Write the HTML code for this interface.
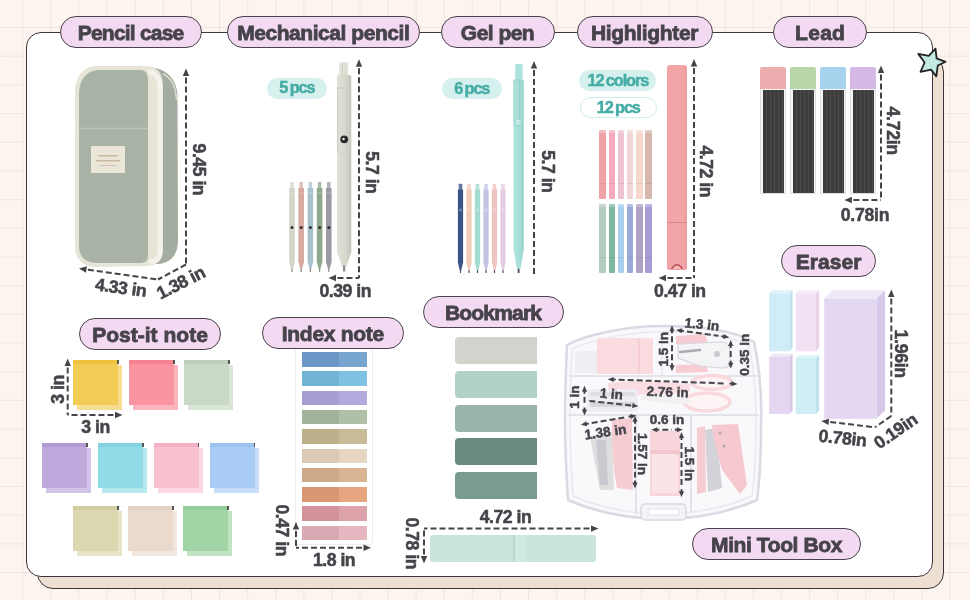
<!DOCTYPE html>
<html><head><meta charset="utf-8"><title>Stationery Set</title>
<style>
*{margin:0;padding:0;box-sizing:border-box}
html,body{width:970px;height:600px;overflow:hidden}
body{position:relative;background-color:#fcf4ef;
background-image:linear-gradient(90deg, rgba(228,204,194,.38) 1px, transparent 1px),linear-gradient(180deg, rgba(228,204,194,.38) 1px, transparent 1px);
background-size:28.1px 28.7px;background-position:22.4px 27px;font-family:'Liberation Sans', 'DejaVu Sans', sans-serif;}
.abs{position:absolute}
.pill{position:absolute;height:32px;border:1.6px solid #4b434b;border-radius:16px;background:#f3d9f1;color:#46434a;
font:bold 21px/31px 'Liberation Sans', 'DejaVu Sans', sans-serif;letter-spacing:-0.8px;text-align:center;white-space:nowrap;-webkit-text-stroke:0.8px #46434a}
.cnt{position:absolute;height:22px;border-radius:11px;background:#d5f0ed;color:#47aca6;font:bold 16.3px/22px 'Liberation Sans', 'DejaVu Sans', sans-serif;letter-spacing:-1.1px;word-spacing:-1px;text-align:center;-webkit-text-stroke:0.5px #47aca6}
.dim{font-family:'Liberation Sans', 'DejaVu Sans', sans-serif;font-weight:bold;fill:#46434a;letter-spacing:-0.4px}
</style></head><body>

<div class="abs" style="left:37px;top:56px;width:907px;height:533px;background:#eddfd1;border:1.6px solid #3d3539;border-radius:16px"></div>
<div class="abs" style="left:26px;top:32px;width:907px;height:545px;background:#fff;border:1.6px solid #3d3539;border-radius:15px"></div>
<svg class="abs" style="left:0;top:0" width="970" height="600" viewBox="0 0 970 600">
<path d="M146,67 C165,67 177,78 177.5,96 L178,240 C178,256 170,263 158,264 L146,264 Z" fill="#a2ad9f"/>
<path d="M98,66 L146,66 C158,66 163,74 163,86 L163,250 C163,260 157,266 146,266 L96,267 C83,267 75,259 75,246 L75,92 C75,76 84,66 98,66 Z" fill="#e7e4d8"/>
<path d="M100,70 L140,70 C146,70 148,74 148,80 L148,256 C148,261 145,263 140,263 L97,263 C86,263 79,257 79,246 L79,94 C79,79 87,70 100,70 Z" fill="#a8b3a5"/>
<path d="M148,72 C155,72 160,78 160,88 L160,250 C160,258 156,262 149,262" fill="none" stroke="#f4f2ea" stroke-width="5"/>
<path d="M163,74 C172,78 176,88 176.5,100" fill="none" stroke="#dcdccd" stroke-width="1.5"/>
<line x1="79" y1="128.5" x2="148" y2="128.5" stroke="#bcc5b9" stroke-width="1.5"/>
<rect x="91" y="146" width="34" height="27" fill="#ebe6d8"/>
<rect x="98" y="155" width="20" height="1.5" fill="#c9b9a0"/>
<rect x="96" y="160" width="24" height="1.5" fill="#c9b9a0"/>
<rect x="99" y="165" width="18" height="1" fill="#d3c6b0"/>
</svg>
<svg class="abs" style="left:0;top:0" width="970" height="600" viewBox="0 0 970 600"><rect x="339" y="62.5" width="9.3" height="13" fill="#e7e6dd"/><rect x="341.8" y="62.5" width="1.2" height="13" fill="#cfcec4"/><rect x="344.8" y="62.5" width="1.2" height="13" fill="#d6d5cb"/><defs><linearGradient id="gm" x1="0" x2="1"><stop offset="0" stop-color="#e2e1d7"/><stop offset="0.6" stop-color="#d8d7cc"/><stop offset="1" stop-color="#c6c5b9"/></linearGradient><linearGradient id="gg" x1="0" x2="1"><stop offset="0" stop-color="#b3e6e0"/><stop offset="0.6" stop-color="#a5ddd7"/><stop offset="1" stop-color="#93d1ca"/></linearGradient></defs><path d="M337,77 Q337,75 339,75 L349.3,75 Q351.3,75 351.3,77 L351.3,252 L346.5,266 L341.8,266 L337,252 Z" fill="url(#gm)"/><path d="M337.6,88 L346.5,88 L346.5,150 Q346.5,154 342,154 Q337.6,154 337.6,150 Z" fill="none" stroke="#cbcabf" stroke-width="0.9"/><line x1="337" y1="88" x2="351.3" y2="88" stroke="#cbcabf" stroke-width="0.8"/><circle cx="344.2" cy="139.3" r="3.9" fill="#2a2a2a"/><circle cx="343.6" cy="139" r="1.2" fill="#e8e8e0"/><rect x="343" y="265.5" width="2.3" height="6" fill="#8c8c88"/><rect x="290.2" y="182" width="3.5" height="6" fill="#d5d4c8" opacity="0.75"/><path d="M289.2,188 L294.8,188 L294.8,262 L292.8,269 L291.2,269 L289.2,262 Z" fill="#d5d4c8"/><rect x="291.4" y="268.5" width="1.2" height="3.5" fill="#8a8a88"/><circle cx="292.0" cy="227.5" r="1.5" fill="#303030"/><line x1="289.2" y1="193" x2="294.8" y2="193" stroke="#fff" stroke-opacity="0.35" stroke-width="0.8"/><rect x="299.4" y="182" width="3.5" height="6" fill="#d8a9a1" opacity="0.75"/><path d="M298.4,188 L304.0,188 L304.0,262 L302.0,269 L300.4,269 L298.4,262 Z" fill="#d8a9a1"/><rect x="300.6" y="268.5" width="1.2" height="3.5" fill="#8a8a88"/><circle cx="301.2" cy="227.5" r="1.5" fill="#303030"/><line x1="298.4" y1="193" x2="304.0" y2="193" stroke="#fff" stroke-opacity="0.35" stroke-width="0.8"/><rect x="308.6" y="182" width="3.5" height="6" fill="#a8c2ce" opacity="0.75"/><path d="M307.6,188 L313.2,188 L313.2,262 L311.2,269 L309.6,269 L307.6,262 Z" fill="#a8c2ce"/><rect x="309.8" y="268.5" width="1.2" height="3.5" fill="#8a8a88"/><circle cx="310.4" cy="227.5" r="1.5" fill="#303030"/><line x1="307.6" y1="193" x2="313.2" y2="193" stroke="#fff" stroke-opacity="0.35" stroke-width="0.8"/><rect x="317.8" y="182" width="3.5" height="6" fill="#8fa88e" opacity="0.75"/><path d="M316.8,188 L322.4,188 L322.4,262 L320.4,269 L318.8,269 L316.8,262 Z" fill="#8fa88e"/><rect x="319.0" y="268.5" width="1.2" height="3.5" fill="#8a8a88"/><circle cx="319.6" cy="227.5" r="1.5" fill="#303030"/><line x1="316.8" y1="193" x2="322.4" y2="193" stroke="#fff" stroke-opacity="0.35" stroke-width="0.8"/><rect x="327.0" y="182" width="3.5" height="6" fill="#9c9ba3" opacity="0.75"/><path d="M326.0,188 L331.6,188 L331.6,262 L329.6,269 L328.0,269 L326.0,262 Z" fill="#9c9ba3"/><rect x="328.2" y="268.5" width="1.2" height="3.5" fill="#8a8a88"/><circle cx="328.8" cy="227.5" r="1.5" fill="#303030"/><line x1="326.0" y1="193" x2="331.6" y2="193" stroke="#fff" stroke-opacity="0.35" stroke-width="0.8"/><path d="M515.2,65 Q515.2,64 516.5,64 L521.3,64 Q522.6,64 522.6,65 L522.6,80 L515.2,80 Z" fill="#ade2dc"/><path d="M513.5,81 Q513.5,79.5 515,79.5 L522.3,79.5 Q523.8,79.5 523.8,81 L523.8,249 L520.3,269.5 L517,269.5 L513.5,249 Z" fill="url(#gg)"/><path d="M513.9,80 L519.6,80 L519.6,124 Q519.6,127 516.8,127 Q513.9,127 513.9,124 Z" fill="none" stroke="#93cdc7" stroke-width="0.8"/><circle cx="518.7" cy="122" r="1.6" fill="none" stroke="#f0fbfa" stroke-width="0.8"/><rect x="517.7" y="269" width="1.8" height="4" fill="#4a4a4a"/><rect x="458.7" y="183.8" width="3.6" height="6" fill="#3b5487" opacity="0.8"/><path d="M457.9,189.5 L463.1,189.5 L463.1,262.5 L461.2,270.5 L459.8,270.5 L457.9,262.5 Z" fill="#3b5487"/><rect x="459.9" y="270" width="1.2" height="3" fill="#555"/><circle cx="460.5" cy="210" r="1" fill="none" stroke="#fff" stroke-opacity="0.7" stroke-width="0.5"/><rect x="467.2" y="183.8" width="3.6" height="6" fill="#f0ccb7" opacity="0.8"/><path d="M466.4,189.5 L471.6,189.5 L471.6,262.5 L469.7,270.5 L468.3,270.5 L466.4,262.5 Z" fill="#f0ccb7"/><rect x="468.4" y="270" width="1.2" height="3" fill="#555"/><circle cx="469.0" cy="210" r="1" fill="none" stroke="#fff" stroke-opacity="0.7" stroke-width="0.5"/><rect x="475.7" y="183.8" width="3.6" height="6" fill="#a3dbd0" opacity="0.8"/><path d="M474.9,189.5 L480.1,189.5 L480.1,262.5 L478.2,270.5 L476.8,270.5 L474.9,262.5 Z" fill="#a3dbd0"/><rect x="476.9" y="270" width="1.2" height="3" fill="#555"/><circle cx="477.5" cy="210" r="1" fill="none" stroke="#fff" stroke-opacity="0.7" stroke-width="0.5"/><rect x="484.2" y="183.8" width="3.6" height="6" fill="#c3c3e6" opacity="0.8"/><path d="M483.4,189.5 L488.6,189.5 L488.6,262.5 L486.7,270.5 L485.3,270.5 L483.4,262.5 Z" fill="#c3c3e6"/><rect x="485.4" y="270" width="1.2" height="3" fill="#555"/><circle cx="486.0" cy="210" r="1" fill="none" stroke="#fff" stroke-opacity="0.7" stroke-width="0.5"/><rect x="492.7" y="183.8" width="3.6" height="6" fill="#efc3c0" opacity="0.8"/><path d="M491.9,189.5 L497.1,189.5 L497.1,262.5 L495.2,270.5 L493.8,270.5 L491.9,262.5 Z" fill="#efc3c0"/><rect x="493.9" y="270" width="1.2" height="3" fill="#555"/><circle cx="494.5" cy="210" r="1" fill="none" stroke="#fff" stroke-opacity="0.7" stroke-width="0.5"/><rect x="501.2" y="183.8" width="3.6" height="6" fill="#e3cbe0" opacity="0.8"/><path d="M500.4,189.5 L505.6,189.5 L505.6,262.5 L503.7,270.5 L502.3,270.5 L500.4,262.5 Z" fill="#e3cbe0"/><rect x="502.4" y="270" width="1.2" height="3" fill="#555"/><circle cx="503.0" cy="210" r="1" fill="none" stroke="#fff" stroke-opacity="0.7" stroke-width="0.5"/></svg>
<div class="abs" style="left:667px;top:65px;width:20px;height:205px;background:linear-gradient(90deg,#f3a4a7,#f3a4a7 80%,#eb9a9d);border-radius:3px 3px 2px 2px"></div>
<div class="abs" style="left:667px;top:222px;width:20px;height:1px;background:#d88888"></div>
<svg class="abs" style="left:0;top:0" width="970" height="600"><path d="M671.5,269 Q677,260.5 682.5,269" fill="#f7b4b4" stroke="#b3505a" stroke-width="1.4"/></svg>

<div class="abs" style="left:599.3px;top:130px;width:6.6px;height:69px;background:#f0a3a7;border-radius:1px"></div>
<div class="abs" style="left:599.3px;top:204px;width:6.6px;height:69px;background:#b4ccc0;border-radius:1px"></div>
<div class="abs" style="left:599.3px;top:182.5px;width:6.6px;height:1px;background:rgba(0,0,0,.08)"></div>
<div class="abs" style="left:599.3px;top:257px;width:6.6px;height:1px;background:rgba(0,0,0,.08)"></div>
<div class="abs" style="left:599.3px;top:130px;width:6.6px;height:3px;background:rgba(255,255,255,.25)"></div>
<div class="abs" style="left:599.3px;top:204px;width:6.6px;height:3px;background:rgba(255,255,255,.25)"></div>
<div class="abs" style="left:608.5px;top:130px;width:6.6px;height:69px;background:#f4abbe;border-radius:1px"></div>
<div class="abs" style="left:608.5px;top:204px;width:6.6px;height:69px;background:#7fb79f;border-radius:1px"></div>
<div class="abs" style="left:608.5px;top:182.5px;width:6.6px;height:1px;background:rgba(0,0,0,.08)"></div>
<div class="abs" style="left:608.5px;top:257px;width:6.6px;height:1px;background:rgba(0,0,0,.08)"></div>
<div class="abs" style="left:608.5px;top:130px;width:6.6px;height:3px;background:rgba(255,255,255,.25)"></div>
<div class="abs" style="left:608.5px;top:204px;width:6.6px;height:3px;background:rgba(255,255,255,.25)"></div>
<div class="abs" style="left:617.7px;top:130px;width:6.6px;height:69px;background:#ecc3cf;border-radius:1px"></div>
<div class="abs" style="left:617.7px;top:204px;width:6.6px;height:69px;background:#a8d0ee;border-radius:1px"></div>
<div class="abs" style="left:617.7px;top:182.5px;width:6.6px;height:1px;background:rgba(0,0,0,.08)"></div>
<div class="abs" style="left:617.7px;top:257px;width:6.6px;height:1px;background:rgba(0,0,0,.08)"></div>
<div class="abs" style="left:617.7px;top:130px;width:6.6px;height:3px;background:rgba(255,255,255,.25)"></div>
<div class="abs" style="left:617.7px;top:204px;width:6.6px;height:3px;background:rgba(255,255,255,.25)"></div>
<div class="abs" style="left:626.9px;top:130px;width:6.6px;height:69px;background:#f2d6d6;border-radius:1px"></div>
<div class="abs" style="left:626.9px;top:204px;width:6.6px;height:69px;background:#9aaad8;border-radius:1px"></div>
<div class="abs" style="left:626.9px;top:182.5px;width:6.6px;height:1px;background:rgba(0,0,0,.08)"></div>
<div class="abs" style="left:626.9px;top:257px;width:6.6px;height:1px;background:rgba(0,0,0,.08)"></div>
<div class="abs" style="left:626.9px;top:130px;width:6.6px;height:3px;background:rgba(255,255,255,.25)"></div>
<div class="abs" style="left:626.9px;top:204px;width:6.6px;height:3px;background:rgba(255,255,255,.25)"></div>
<div class="abs" style="left:636.1px;top:130px;width:6.6px;height:69px;background:#f5d7cb;border-radius:1px"></div>
<div class="abs" style="left:636.1px;top:204px;width:6.6px;height:69px;background:#b0a2c4;border-radius:1px"></div>
<div class="abs" style="left:636.1px;top:182.5px;width:6.6px;height:1px;background:rgba(0,0,0,.08)"></div>
<div class="abs" style="left:636.1px;top:257px;width:6.6px;height:1px;background:rgba(0,0,0,.08)"></div>
<div class="abs" style="left:636.1px;top:130px;width:6.6px;height:3px;background:rgba(255,255,255,.25)"></div>
<div class="abs" style="left:636.1px;top:204px;width:6.6px;height:3px;background:rgba(255,255,255,.25)"></div>
<div class="abs" style="left:645.3px;top:130px;width:6.6px;height:69px;background:#d7b7ab;border-radius:1px"></div>
<div class="abs" style="left:645.3px;top:204px;width:6.6px;height:69px;background:#a99ad8;border-radius:1px"></div>
<div class="abs" style="left:645.3px;top:182.5px;width:6.6px;height:1px;background:rgba(0,0,0,.08)"></div>
<div class="abs" style="left:645.3px;top:257px;width:6.6px;height:1px;background:rgba(0,0,0,.08)"></div>
<div class="abs" style="left:645.3px;top:130px;width:6.6px;height:3px;background:rgba(255,255,255,.25)"></div>
<div class="abs" style="left:645.3px;top:204px;width:6.6px;height:3px;background:rgba(255,255,255,.25)"></div>
<div class="abs" style="left:760px;top:67px;width:26px;height:21.5px;background:linear-gradient(180deg,#ebadad,#ebadad 70%,rgba(255,255,255,.0)),#ebadad;border-radius:2px 2px 0 0"></div>
<div class="abs" style="left:760px;top:89px;width:26px;height:105px;background:#f7f7f7;border:1px solid #dedede;border-top:none"></div>
<div class="abs" style="left:762.5px;top:90px;width:21px;height:103px;background:repeating-linear-gradient(90deg,#3c3c3c 0 3px,#4c4c4c 3px 4px)"></div>
<div class="abs" style="left:790px;top:67px;width:26px;height:21.5px;background:linear-gradient(180deg,#b9d5aa,#b9d5aa 70%,rgba(255,255,255,.0)),#b9d5aa;border-radius:2px 2px 0 0"></div>
<div class="abs" style="left:790px;top:89px;width:26px;height:105px;background:#f7f7f7;border:1px solid #dedede;border-top:none"></div>
<div class="abs" style="left:792.5px;top:90px;width:21px;height:103px;background:repeating-linear-gradient(90deg,#3c3c3c 0 3px,#4c4c4c 3px 4px)"></div>
<div class="abs" style="left:820px;top:67px;width:26px;height:21.5px;background:linear-gradient(180deg,#a8d3ef,#a8d3ef 70%,rgba(255,255,255,.0)),#a8d3ef;border-radius:2px 2px 0 0"></div>
<div class="abs" style="left:820px;top:89px;width:26px;height:105px;background:#f7f7f7;border:1px solid #dedede;border-top:none"></div>
<div class="abs" style="left:822.5px;top:90px;width:21px;height:103px;background:repeating-linear-gradient(90deg,#3c3c3c 0 3px,#4c4c4c 3px 4px)"></div>
<div class="abs" style="left:850px;top:67px;width:26px;height:21.5px;background:linear-gradient(180deg,#d5b8e5,#d5b8e5 70%,rgba(255,255,255,.0)),#d5b8e5;border-radius:2px 2px 0 0"></div>
<div class="abs" style="left:850px;top:89px;width:26px;height:105px;background:#f7f7f7;border:1px solid #dedede;border-top:none"></div>
<div class="abs" style="left:852.5px;top:90px;width:21px;height:103px;background:repeating-linear-gradient(90deg,#3c3c3c 0 3px,#4c4c4c 3px 4px)"></div>
<div class="abs" style="left:77px;top:365px;width:45px;height:45px;background:#f6dd93"></div>
<div class="abs" style="left:73px;top:360px;width:45px;height:45px;background:#f3cc56;box-shadow:inset 0 4px 0 #efc23d"></div>
<div class="abs" style="left:117px;top:360px;width:1.5px;height:4px;background:#555"></div>
<div class="abs" style="left:133px;top:365px;width:45px;height:45px;background:#fab5bd"></div>
<div class="abs" style="left:129px;top:360px;width:45px;height:45px;background:#f994a0;box-shadow:inset 0 4px 0 #f5838f"></div>
<div class="abs" style="left:173px;top:360px;width:1.5px;height:4px;background:#555"></div>
<div class="abs" style="left:188px;top:365px;width:45px;height:45px;background:#d9e5d6"></div>
<div class="abs" style="left:184px;top:360px;width:45px;height:45px;background:#c9d9c6;box-shadow:inset 0 4px 0 #bccfb9"></div>
<div class="abs" style="left:228px;top:360px;width:1.5px;height:4px;background:#555"></div>
<div class="abs" style="left:46px;top:448.3px;width:45px;height:45px;background:#d3c5ea"></div>
<div class="abs" style="left:42px;top:443.3px;width:45px;height:45px;background:#bfa9dd;box-shadow:inset 0 4px 0 #b39bd6"></div>
<div class="abs" style="left:86px;top:443.3px;width:1.5px;height:4px;background:#555"></div>
<div class="abs" style="left:102px;top:448.3px;width:45px;height:45px;background:#b6e8f0"></div>
<div class="abs" style="left:98px;top:443.3px;width:45px;height:45px;background:#90dbe7;box-shadow:inset 0 4px 0 #82d2e0"></div>
<div class="abs" style="left:142px;top:443.3px;width:1.5px;height:4px;background:#555"></div>
<div class="abs" style="left:157.5px;top:448.3px;width:45px;height:45px;background:#fbd7e1"></div>
<div class="abs" style="left:153.5px;top:443.3px;width:45px;height:45px;background:#f9c0d0;box-shadow:inset 0 4px 0 #f6b1c4"></div>
<div class="abs" style="left:197.5px;top:443.3px;width:1.5px;height:4px;background:#555"></div>
<div class="abs" style="left:213.5px;top:448.3px;width:45px;height:45px;background:#c7ddf8"></div>
<div class="abs" style="left:209.5px;top:443.3px;width:45px;height:45px;background:#a9ccf5;box-shadow:inset 0 4px 0 #9cc2f1"></div>
<div class="abs" style="left:253.5px;top:443.3px;width:1.5px;height:4px;background:#555"></div>
<div class="abs" style="left:77px;top:511px;width:45px;height:45px;background:#e7e4c7"></div>
<div class="abs" style="left:73px;top:506px;width:45px;height:45px;background:#dbd7ae;box-shadow:inset 0 4px 0 #d2cda0"></div>
<div class="abs" style="left:117px;top:506px;width:1.5px;height:4px;background:#555"></div>
<div class="abs" style="left:132px;top:511px;width:45px;height:45px;background:#f1e7de"></div>
<div class="abs" style="left:128px;top:506px;width:45px;height:45px;background:#e9dacd;box-shadow:inset 0 4px 0 #e2d0c1"></div>
<div class="abs" style="left:172px;top:506px;width:1.5px;height:4px;background:#555"></div>
<div class="abs" style="left:187px;top:511px;width:45px;height:45px;background:#c0e4c2"></div>
<div class="abs" style="left:183px;top:506px;width:45px;height:45px;background:#a1d5a5;box-shadow:inset 0 4px 0 #93cc97"></div>
<div class="abs" style="left:227px;top:506px;width:1.5px;height:4px;background:#555"></div>
<div class="abs" style="left:295.3px;top:346px;width:78px;height:199px;background:#fff;border:1px solid #ececec;border-top:none;border-radius:0 0 3px 3px"></div>
<div class="abs" style="left:302px;top:352.0px;width:65px;height:14.6px;background:linear-gradient(90deg,#6b96c5 0 56.5%,#78a4d0 56.5%)"></div>
<div class="abs" style="left:302px;top:371.3px;width:65px;height:14.6px;background:linear-gradient(90deg,#72b4d6 0 56.5%,#7fc1e0 56.5%)"></div>
<div class="abs" style="left:302px;top:390.6px;width:65px;height:14.6px;background:linear-gradient(90deg,#a79fd3 0 56.5%,#b4a9dd 56.5%)"></div>
<div class="abs" style="left:302px;top:409.9px;width:65px;height:14.6px;background:linear-gradient(90deg,#a3b39b 0 56.5%,#b0c0a8 56.5%)"></div>
<div class="abs" style="left:302px;top:429.2px;width:65px;height:14.6px;background:linear-gradient(90deg,#bcb08b 0 56.5%,#c8bc98 56.5%)"></div>
<div class="abs" style="left:302px;top:448.5px;width:65px;height:14.6px;background:linear-gradient(90deg,#d9c9b5 0 56.5%,#e5d5c2 56.5%)"></div>
<div class="abs" style="left:302px;top:467.8px;width:65px;height:14.6px;background:linear-gradient(90deg,#cda889 0 56.5%,#d9b595 56.5%)"></div>
<div class="abs" style="left:302px;top:487.1px;width:65px;height:14.6px;background:linear-gradient(90deg,#d99773 0 56.5%,#e5a680 56.5%)"></div>
<div class="abs" style="left:302px;top:506.4px;width:65px;height:14.6px;background:linear-gradient(90deg,#d4939b 0 56.5%,#dea3aa 56.5%)"></div>
<div class="abs" style="left:302px;top:525.7px;width:65px;height:14.6px;background:linear-gradient(90deg,#d9a9b4 0 56.5%,#e5b8c1 56.5%)"></div>
<div class="abs" style="left:455px;top:336.5px;width:81.5px;height:27px;background:#d0d4cc;border-radius:4px 0 0 4px"></div>
<div class="abs" style="left:455px;top:371px;width:81.5px;height:27px;background:#b1d2c6;border-radius:4px 0 0 4px"></div>
<div class="abs" style="left:455px;top:405px;width:81.5px;height:27px;background:#98b5a9;border-radius:4px 0 0 4px"></div>
<div class="abs" style="left:455px;top:438px;width:81.5px;height:27px;background:#6a8a80;border-radius:4px 0 0 4px"></div>
<div class="abs" style="left:455px;top:472px;width:81.5px;height:27px;background:#7a9b91;border-radius:4px 0 0 4px"></div>
<div class="abs" style="left:429.5px;top:534.5px;width:166px;height:27px;background:linear-gradient(90deg,#c9e5dd 0 50.3%,#b8d7ce 50.3% 51.3%,#d0e9e2 51.3% 57.5%,#c9e5dd 57.5%);border-radius:3px"></div>
<svg class="abs" style="left:0;top:0" width="970" height="600"><path d="M789.4,293.3 L792.6,290.1 L792.6,348.1 L789.4,351.3 Z" fill="#c2e0f0"/><path d="M769.2,293.3 L772.4000000000001,290.1 L792.6,290.1 L789.4,293.3 Z" fill="#e4f4fc"/><rect x="769.2" y="293.3" width="20.2" height="58.0" fill="#d1ecf9"/><path d="M816.0,293.3 L819.2,290.1 L819.2,348.1 L816.0,351.3 Z" fill="#e8d3ea"/><path d="M795.7,293.3 L798.9000000000001,290.1 L819.2,290.1 L816.0,293.3 Z" fill="#f8eef9"/><rect x="795.7" y="293.3" width="20.3" height="58.0" fill="#f2e1f3"/><path d="M789.4,356.9 L792.6,353.7 L792.6,410.8 L789.4,414.0 Z" fill="#d8c6e8"/><path d="M769.2,356.9 L772.4000000000001,353.7 L792.6,353.7 L789.4,356.9 Z" fill="#efe6f8"/><rect x="769.2" y="356.9" width="20.2" height="57.099999999999994" fill="#e4d5f1"/><path d="M816.0,358.09999999999997 L819.2,354.9 L819.2,410.8 L816.0,414.0 Z" fill="#bfe3ea"/><path d="M795.7,358.09999999999997 L798.9000000000001,354.9 L819.2,354.9 L816.0,358.09999999999997 Z" fill="#e2f7f9"/><rect x="795.7" y="358.09999999999997" width="20.3" height="55.9" fill="#ceeef3"/><path d="M876.5,298.7 L885.0,290.2 L885.0,410.29999999999995 L876.5,418.79999999999995 Z" fill="#d5c8e8"/><path d="M824.2,298.7 L832.7,290.2 L885.0,290.2 L876.5,298.7 Z" fill="#efe8f8"/><rect x="824.2" y="298.7" width="52.3" height="120.1" fill="#e3d7f1"/></svg>
<svg class="abs" style="left:0;top:0" width="970" height="600" viewBox="0 0 970 600">
<path d="M567,345 C590,333 630,326 662,326 C700,326 735,331 754,342 C760,370 762,400 761,425 C761,460 759,485 757,500 C730,512 700,518 667,519 C630,519 595,512 568,500 C566,470 565,440 565,420 C565,390 566,365 567,345 Z" fill="#f9f9fb" stroke="#dadae3" stroke-width="2.5"/>
<path d="M572,349 C595,338 632,332 662,332 C698,332 732,336 749,346 C755,372 756,400 756,425 C756,458 754,482 752,496 C727,507 698,513 667,514 C631,514 598,507 573,496 C571,468 570,440 570,420 C570,392 571,368 572,349 Z" fill="none" stroke="#e8e8ee" stroke-width="1.5"/>
<line x1="569" y1="376" x2="757" y2="376" stroke="#e3e3ea" stroke-width="2"/>
<line x1="568" y1="415" x2="759" y2="415" stroke="#e3e3ea" stroke-width="2"/>
<line x1="636" y1="415" x2="636" y2="514" stroke="#e3e3ea" stroke-width="2"/>
<line x1="691" y1="415" x2="691" y2="512" stroke="#e3e3ea" stroke-width="2"/>
<line x1="662" y1="333" x2="662" y2="376" stroke="#e6e6ec" stroke-width="1.5"/>
<rect x="575" y="351" width="22" height="22" fill="#efeff3"/>
<rect x="597" y="338" width="56" height="36" rx="1.5" fill="#fadbe0"/>
<line x1="639" y1="338" x2="639" y2="374" stroke="#f2c3ca" stroke-width="1"/>
<path d="M676,336 L705,334 L708,343 L676,344 Z" fill="#f7cdd3"/>
<path d="M676,365 L706,364 L708,372 L676,373 Z" fill="#f7cdd3"/>
<path d="M678,344 L722,342 C728,342 730,346 730,352 L730,362 C730,366 727,368 722,368 L700,366 L678,358 Z" fill="#f4f4f7" stroke="#d5d5dc" stroke-width="1.2"/>
<path d="M680,352 L700,350" stroke="#aaaab2" stroke-width="2.5" stroke-linecap="round"/>
<circle cx="717" cy="354" r="3" fill="#c8c8cf"/>
<ellipse cx="712" cy="382.5" rx="20" ry="7" fill="#fdf4f6" stroke="#f9d8de" stroke-width="3.5"/>
<ellipse cx="707" cy="402" rx="23" ry="9" fill="#fdf4f6" stroke="#f9d8de" stroke-width="3.5"/>
<path d="M608,383 C630,380 660,381 690,384 L690,392 C665,395 635,396 608,394 Z" fill="#f9dde2"/>
<path d="M640,394 C660,396 680,397 690,398 L688,404 C670,404 655,402 640,400 Z" fill="#f1f1f4"/>
<rect x="587" y="389" width="51" height="23" rx="2" fill="#eeeef2"/>
<rect x="590" y="392" width="45" height="4" fill="#dedee4"/>
<rect x="590" y="402" width="45" height="5" fill="#d8d8de"/>
<path d="M612,420 L632,418 L633,490 L617,488 C613,470 611,440 612,420 Z" fill="#f6ccd3"/>
<path d="M590,436 L612,434 L614,490 L600,490 Z" fill="#dededf"/>
<path d="M596,440 L606,440 L608,485 L600,485 Z" fill="#c9c9cf"/>
<rect x="650" y="431" width="30" height="65" fill="#f8d5da"/>
<rect x="652" y="454" width="26" height="39" rx="3" fill="#fbe4e8"/>
<rect x="650" y="450" width="30" height="4" fill="#f3c6cd"/>
<path d="M697,428 L705,426 L706,492 L697,494 Z" fill="#f6ccd3"/>
<path d="M705,430 L716,428 L722,488 L708,492 Z" fill="#d2d2d8"/>
<path d="M712,425 L738,424 L747,485 L740,494 L722,470 L714,440 Z" fill="#f6c9d0"/>
<circle cx="720" cy="433" r="1.6" fill="#b9a9ad"/>
<circle cx="724" cy="446" r="1.6" fill="#b9a9ad"/>
<rect x="641" y="504" width="45" height="16" rx="4" fill="#f4f4f7" stroke="#d8d8e0" stroke-width="1.5"/>
<rect x="648" y="509" width="31" height="6" rx="2" fill="#fff" stroke="#e0e0e6" stroke-width="1"/>
</svg>
<svg class="abs" style="left:0;top:0" width="970" height="600"><polygon points="935.5,48.6 936.6,58.4 945.6,61.8 937.8,65.5 936.3,76.4 931,69.6 920.5,71.9 924.6,62.5 918.3,53.9 928.8,55.8" fill="#c3eae2" stroke="#222" stroke-width="1.8" stroke-linejoin="round"/></svg>
<div class="pill" style="left:60px;top:16px;width:142px;letter-spacing:-0.80px;text-indent:-0.80px">Pencil case</div>
<div class="pill" style="left:227px;top:16px;width:193px;letter-spacing:-0.44px;text-indent:-0.44px">Mechanical pencil</div>
<div class="pill" style="left:440.5px;top:16px;width:114.5px;letter-spacing:-0.53px;text-indent:-0.53px">Gel pen</div>
<div class="pill" style="left:577px;top:16px;width:135.5px;letter-spacing:-0.34px;text-indent:-0.34px">Highlighter</div>
<div class="pill" style="left:773px;top:16px;width:94px;letter-spacing:0.30px;text-indent:0.30px">Lead</div>
<div class="pill" style="left:79px;top:317.5px;width:142px;letter-spacing:0.02px;text-indent:0.02px">Post-it note</div>
<div class="pill" style="left:262px;top:317px;width:142px;letter-spacing:-0.28px;text-indent:-0.28px">Index note</div>
<div class="pill" style="left:422.7px;top:295.6px;width:141.5px;letter-spacing:-0.80px;text-indent:-0.80px">Bookmark</div>
<div class="pill" style="left:781px;top:245px;width:95px;letter-spacing:0.06px;text-indent:0.06px">Eraser</div>
<div class="pill" style="left:692.4px;top:528.4px;width:168.6px;letter-spacing:-0.40px;text-indent:-0.40px">Mini Tool Box</div>
<div class="cnt" style="left:266.6px;top:78.2px;width:60.7px;height:21.3px;line-height:19.8px">5 pcs</div>
<div class="cnt" style="left:441.6px;top:77.8px;width:60.3px;height:21.7px;line-height:20px">6 pcs</div>
<div class="cnt" style="left:579.2px;top:70.3px;width:77.3px;height:21.2px;line-height:21.2px">12 colors</div>
<div class="cnt" style="left:579.5px;top:97.3px;width:77.5px;height:20.7px;line-height:19.5px;background:#fff;border:1.5px solid #cdeee9">12 pcs</div>
<svg class="abs" style="left:0;top:0" width="970" height="600" viewBox="0 0 970 600"><g stroke="#46434a" stroke-width="2" stroke-dasharray="6 3" fill="none"><line x1="186.0" y1="77.5" x2="186.0" y2="264.5"/><line x1="186.0" y1="264.5" x2="158.0" y2="279.5"/><line x1="87.9" y1="269.7" x2="158.0" y2="279.5"/><line x1="359.0" y1="68.2" x2="359.0" y2="278.0"/><line x1="337.5" y1="278.0" x2="359.0" y2="278.0"/><line x1="534.0" y1="70.0" x2="534.0" y2="275.0"/><line x1="694.0" y1="68.1" x2="694.0" y2="278.0"/><line x1="667.5" y1="278.0" x2="694.0" y2="278.0"/><line x1="881.0" y1="74.5" x2="881.0" y2="200.0"/><line x1="853.4" y1="200.0" x2="881.0" y2="200.0"/><line x1="67.7" y1="367.5" x2="67.7" y2="415.0"/><line x1="113.5" y1="415.0" x2="67.7" y2="415.0"/><line x1="296.0" y1="531.0" x2="296.0" y2="547.7"/><line x1="362.0" y1="547.7" x2="296.0" y2="547.7"/><line x1="589.5" y1="528.6" x2="424.0" y2="528.6"/><line x1="424.0" y1="554.5" x2="424.0" y2="528.6"/><line x1="891.3" y1="298.5" x2="891.3" y2="416.0"/><line x1="891.3" y1="416.0" x2="875.0" y2="427.3"/><line x1="830.2" y1="422.0" x2="875.0" y2="427.3"/><line x1="686.9" y1="331.5" x2="718.4" y2="335.8"/><line x1="672.0" y1="336.3" x2="672.0" y2="360.3"/><line x1="730.7" y1="351.0" x2="730.7" y2="357.7"/><line x1="618.7" y1="379.7" x2="726.5" y2="383.5"/><line x1="631.1" y1="405.4" x2="586.3" y2="400.6"/><line x1="584.5" y1="396.8" x2="584.5" y2="404.5"/><line x1="591.7" y1="422.9" x2="625.5" y2="417.3"/><line x1="662.3" y1="429.7" x2="671.8" y2="429.7"/><line x1="635.0" y1="426.7" x2="635.0" y2="477.5"/><line x1="681.5" y1="443.0" x2="681.5" y2="486.2"/></g><g fill="#46434a"><polygon points="0,0 -7.50,-3.20 -7.50,3.20" transform="translate(186.0 68.5) rotate(-90.0)"/><polygon points="0,0 -7.50,-3.20 -7.50,3.20" transform="translate(79.0 268.5) rotate(-172.1)"/><polygon points="0,0 -7.50,-3.20 -7.50,3.20" transform="translate(359.0 59.2) rotate(-90.0)"/><polygon points="0,0 -7.50,-3.20 -7.50,3.20" transform="translate(328.5 278.0) rotate(180.0)"/><polygon points="0,0 -7.50,-3.20 -7.50,3.20" transform="translate(534.0 61.0) rotate(-90.0)"/><polygon points="0,0 -7.50,-3.20 -7.50,3.20" transform="translate(694.0 59.1) rotate(-90.0)"/><polygon points="0,0 -7.50,-3.20 -7.50,3.20" transform="translate(658.5 278.0) rotate(180.0)"/><polygon points="0,0 -7.50,-3.20 -7.50,3.20" transform="translate(881.0 65.5) rotate(-90.0)"/><polygon points="0,0 -7.50,-3.20 -7.50,3.20" transform="translate(844.4 200.0) rotate(180.0)"/><polygon points="0,0 -7.50,-3.20 -7.50,3.20" transform="translate(67.7 358.5) rotate(-90.0)"/><polygon points="0,0 -7.50,-3.20 -7.50,3.20" transform="translate(122.5 415.0) rotate(0.0)"/><polygon points="0,0 -7.50,-3.20 -7.50,3.20" transform="translate(296.0 522.0) rotate(-90.0)"/><polygon points="0,0 -7.50,-3.20 -7.50,3.20" transform="translate(371.0 547.7) rotate(0.0)"/><polygon points="0,0 -7.50,-3.20 -7.50,3.20" transform="translate(598.5 528.6) rotate(0.0)"/><polygon points="0,0 -7.50,-3.20 -7.50,3.20" transform="translate(424.0 563.5) rotate(90.0)"/><polygon points="0,0 -7.50,-3.20 -7.50,3.20" transform="translate(891.3 289.5) rotate(-90.0)"/><polygon points="0,0 -7.50,-3.20 -7.50,3.20" transform="translate(821.3 421.0) rotate(-173.3)"/><polygon points="0,0 -6.00,-2.56 -6.00,2.56" transform="translate(729.3 337.3) rotate(7.8)"/><polygon points="0,0 -6.00,-2.56 -6.00,2.56" transform="translate(676.0 330.0) rotate(187.8)"/><line x1="681.0" y1="330.7" x2="683.9" y2="331.1" stroke="#46434a" stroke-width="2"/><line x1="724.3" y1="336.6" x2="721.4" y2="336.2" stroke="#46434a" stroke-width="2"/><polygon points="0,0 -6.00,-2.56 -6.00,2.56" transform="translate(672.0 371.3) rotate(90.0)"/><polygon points="0,0 -6.00,-2.56 -6.00,2.56" transform="translate(672.0 325.3) rotate(270.0)"/><line x1="672.0" y1="330.3" x2="672.0" y2="333.3" stroke="#46434a" stroke-width="2"/><line x1="672.0" y1="366.3" x2="672.0" y2="363.3" stroke="#46434a" stroke-width="2"/><polygon points="0,0 -6.00,-2.56 -6.00,2.56" transform="translate(730.7 368.7) rotate(90.0)"/><polygon points="0,0 -6.00,-2.56 -6.00,2.56" transform="translate(730.7 340.0) rotate(270.0)"/><line x1="730.7" y1="345.0" x2="730.7" y2="348.0" stroke="#46434a" stroke-width="2"/><line x1="730.7" y1="363.7" x2="730.7" y2="360.7" stroke="#46434a" stroke-width="2"/><polygon points="0,0 -6.00,-2.56 -6.00,2.56" transform="translate(737.5 383.9) rotate(2.0)"/><polygon points="0,0 -6.00,-2.56 -6.00,2.56" transform="translate(607.7 379.3) rotate(182.0)"/><line x1="612.7" y1="379.5" x2="615.7" y2="379.6" stroke="#46434a" stroke-width="2"/><line x1="732.5" y1="383.7" x2="729.5" y2="383.6" stroke="#46434a" stroke-width="2"/><polygon points="0,0 -6.00,-2.56 -6.00,2.56" transform="translate(638.3 406.2) rotate(6.1)"/><polygon points="0,0 -6.00,-2.56 -6.00,2.56" transform="translate(584.5 415.5) rotate(90.0)"/><polygon points="0,0 -6.00,-2.56 -6.00,2.56" transform="translate(584.5 385.8) rotate(270.0)"/><line x1="584.5" y1="390.8" x2="584.5" y2="393.8" stroke="#46434a" stroke-width="2"/><line x1="584.5" y1="410.5" x2="584.5" y2="407.5" stroke="#46434a" stroke-width="2"/><polygon points="0,0 -6.00,-2.56 -6.00,2.56" transform="translate(636.4 415.5) rotate(-9.4)"/><polygon points="0,0 -6.00,-2.56 -6.00,2.56" transform="translate(580.8 424.7) rotate(170.6)"/><line x1="585.7" y1="423.9" x2="588.7" y2="423.4" stroke="#46434a" stroke-width="2"/><line x1="631.5" y1="416.3" x2="628.5" y2="416.8" stroke="#46434a" stroke-width="2"/><polygon points="0,0 -6.00,-2.56 -6.00,2.56" transform="translate(682.8 429.7) rotate(0.0)"/><polygon points="0,0 -6.00,-2.56 -6.00,2.56" transform="translate(651.3 429.7) rotate(180.0)"/><line x1="656.3" y1="429.7" x2="659.3" y2="429.7" stroke="#46434a" stroke-width="2"/><line x1="677.8" y1="429.7" x2="674.8" y2="429.7" stroke="#46434a" stroke-width="2"/><polygon points="0,0 -6.00,-2.56 -6.00,2.56" transform="translate(635.0 488.5) rotate(90.0)"/><polygon points="0,0 -6.00,-2.56 -6.00,2.56" transform="translate(635.0 415.7) rotate(270.0)"/><line x1="635.0" y1="420.7" x2="635.0" y2="423.7" stroke="#46434a" stroke-width="2"/><line x1="635.0" y1="483.5" x2="635.0" y2="480.5" stroke="#46434a" stroke-width="2"/><polygon points="0,0 -6.00,-2.56 -6.00,2.56" transform="translate(681.5 497.2) rotate(90.0)"/><polygon points="0,0 -6.00,-2.56 -6.00,2.56" transform="translate(681.5 432.0) rotate(270.0)"/><line x1="681.5" y1="437.0" x2="681.5" y2="440.0" stroke="#46434a" stroke-width="2"/><line x1="681.5" y1="492.2" x2="681.5" y2="489.2" stroke="#46434a" stroke-width="2"/></g><g class="dim" font-family="'Liberation Sans', 'DejaVu Sans', sans-serif" font-weight="bold" fill="#46434a" stroke="#46434a" stroke-width="0.5"><text x="193" y="169.4" font-size="17.7" text-anchor="middle" letter-spacing="-0.5" transform="rotate(90 193 169.4)">9.45 in</text><text x="120" y="293.5" font-size="17.7" text-anchor="middle" letter-spacing="-0.5" transform="rotate(7.5 120 293.5)">4.33 in</text><text x="183.5" y="288" font-size="17.7" text-anchor="middle" letter-spacing="-0.5" transform="rotate(-27 183.5 288)">1.38 in</text><text x="365.5" y="172.3" font-size="17.7" text-anchor="middle" letter-spacing="-0.5" transform="rotate(90 365.5 172.3)">5.7 in</text><text x="345.3" y="297.1" font-size="17.7" text-anchor="middle" letter-spacing="-0.5">0.39 in</text><text x="541.5" y="171.3" font-size="17.7" text-anchor="middle" letter-spacing="-0.5" transform="rotate(90 541.5 171.3)">5.7 in</text><text x="700" y="171.3" font-size="17.7" text-anchor="middle" letter-spacing="-0.5" transform="rotate(90 700 171.3)">4.72 in</text><text x="679.9" y="297.1" font-size="17.7" text-anchor="middle" letter-spacing="-0.5">0.47 in</text><text x="887" y="130.7" font-size="17.7" text-anchor="middle" letter-spacing="-0.3" transform="rotate(90 887 130.7)">4.72in</text><text x="865" y="220.6" font-size="17.7" text-anchor="middle" letter-spacing="-0.3">0.78in</text><text x="64" y="389.5" font-size="17.7" text-anchor="middle" letter-spacing="-0.5" transform="rotate(-90 64 389.5)">3 in</text><text x="95.5" y="433" font-size="17.7" text-anchor="middle" letter-spacing="-0.5">3 in</text><text x="276" y="530.3" font-size="17.7" text-anchor="middle" letter-spacing="-0.5" transform="rotate(90 276 530.3)">0.47 in</text><text x="334" y="566.3" font-size="17.7" text-anchor="middle" letter-spacing="-0.5">1.8 in</text><text x="505.5" y="522.7" font-size="17.7" text-anchor="middle" letter-spacing="-0.5">4.72 in</text><text x="405.6" y="543.3" font-size="17.7" text-anchor="middle" letter-spacing="-0.5" transform="rotate(90 405.6 543.3)">0.78 in</text><text x="895" y="353.7" font-size="17.7" text-anchor="middle" letter-spacing="-0.3" transform="rotate(90 895 353.7)">1.96in</text><text x="842" y="444" font-size="17.7" text-anchor="middle" letter-spacing="-0.3" transform="rotate(6 842 444)">0.78in</text><text x="899" y="436" font-size="17.7" text-anchor="middle" letter-spacing="-0.3" transform="rotate(-35 899 436)">0.19in</text><text x="701.5" y="329" font-size="13.5" text-anchor="middle" letter-spacing="0" transform="rotate(6 701.5 329)">1.3 in</text><text x="668" y="349.3" font-size="13.5" text-anchor="middle" letter-spacing="0" transform="rotate(-90 668 349.3)">1.5 in</text><text x="749.3" y="354.7" font-size="13.5" text-anchor="middle" letter-spacing="0" transform="rotate(-90 749.3 354.7)">0.35 in</text><text x="667.5" y="396.5" font-size="13.5" text-anchor="middle" letter-spacing="0" transform="rotate(2 667.5 396.5)">2.76 in</text><text x="611" y="398.5" font-size="13.5" text-anchor="middle" letter-spacing="0" transform="rotate(5 611 398.5)">1 in</text><text x="579" y="397" font-size="13.5" text-anchor="middle" letter-spacing="0" transform="rotate(-90 579 397)">1 in</text><text x="606" y="436.5" font-size="13.5" text-anchor="middle" letter-spacing="0" transform="rotate(-8 606 436.5)">1.38 in</text><text x="667" y="423.8" font-size="13.5" text-anchor="middle" letter-spacing="0">0.6 in</text><text x="638.4" y="454" font-size="13.5" text-anchor="middle" letter-spacing="0" transform="rotate(90 638.4 454)">1.57 in</text><text x="685.4" y="463.7" font-size="13.5" text-anchor="middle" letter-spacing="0" transform="rotate(90 685.4 463.7)">1.5 in</text></g></svg>
</body></html>
